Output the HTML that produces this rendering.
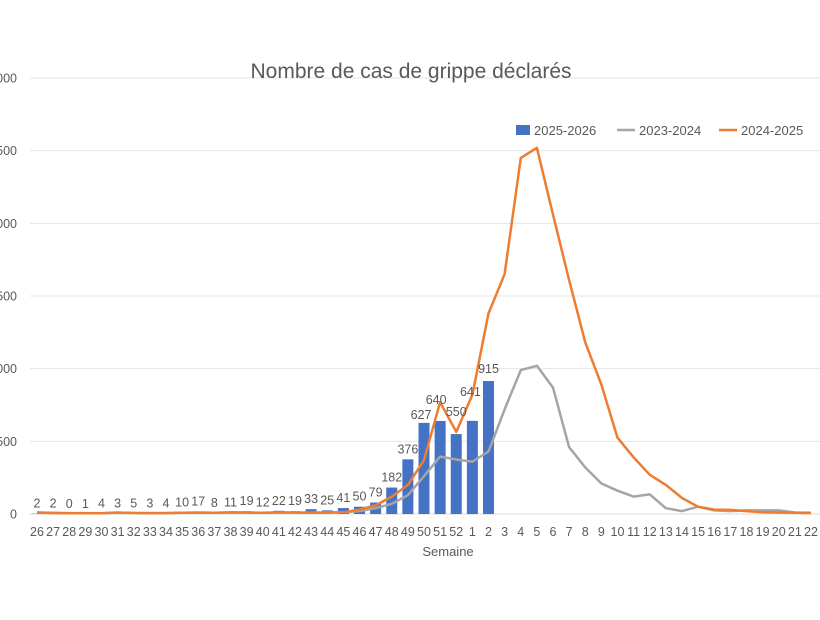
<!DOCTYPE html>
<html><head><meta charset="utf-8"><style>
html,body{margin:0;padding:0;background:#fff;}
svg text{font-family:"Liberation Sans",sans-serif;fill:#595959;}
</style></head><body>
<svg id="c" width="820" height="615" xmlns="http://www.w3.org/2000/svg"></svg>
<script>
const s=document.getElementById('c');
let h='';
const Y=v=>514-v*0.14533;
const X=i=>37+16.125*i;
[0,500,1000,1500,2000,2500,3000].forEach(v=>{
 h+=`<line x1="30" x2="820" y1="${Y(v)}" y2="${Y(v)}" stroke="${v==0?'#d9d9d9':'#e6e6e6'}" stroke-width="1"/>`;
 h+=`<text x="17" y="${Y(v)+4.5}" font-size="12.5" text-anchor="end">${v}</text>`;
});
const weeks=[];for(let w=26;w<=52;w++)weeks.push(w);for(let w=1;w<=22;w++)weeks.push(w);
weeks.forEach((w,i)=>{h+=`<text x="${X(i)}" y="536" font-size="12.5" text-anchor="middle">${w}</text>`;});
const bars=[2,2,0,1,4,3,5,3,4,10,17,8,11,19,12,22,19,33,25,41,50,79,182,376,627,640,550,641,915];
bars.forEach((v,i)=>{
 h+=`<rect x="${X(i)-5.5}" y="${Y(v)}" width="11" height="${v*0.14533}" fill="#4472c4"/>`;
});
const gray=[10,8,6,6,5,8,7,6,6,8,9,8,9,8,8,9,9,10,10,12,20,40,70,130,260,395,375,360,430,720,990,1020,870,460,320,210,160,120,135,40,20,50,25,20,25,25,25,10,8];
const orange=[10,6,5,5,5,10,7,6,6,8,10,9,12,10,9,11,10,8,9,12,30,60,120,200,370,770,565,820,1380,1650,2450,2520,2060,1610,1180,890,525,390,270,200,110,50,30,28,20,12,10,8,6];
const pl=(a,c)=>`<polyline fill="none" stroke="${c}" stroke-width="2.5" stroke-linejoin="round" points="${a.map((v,i)=>X(i).toFixed(1)+','+Y(v).toFixed(1)).join(' ')}"/>`;
h+=pl(gray,'#a5a5a5');
h+=pl(orange,'#ed7d31');
bars.forEach((v,i)=>{
 let y=Y(v)-6; let x=X(i);
 if(i==24){x-=3;y=419;} if(i==25){x-=4;y=404;} if(i==26){y=416;} if(i==27){x-=2;y=396;} if(i==28){y=373;}
 h+=`<text x="${x}" y="${y}" font-size="12.5" text-anchor="middle">${v}</text>`;
});
h+=`<text x="411" y="78" font-size="21" text-anchor="middle">Nombre de cas de grippe déclarés</text>`;
h+=`<text x="448" y="556" font-size="13" text-anchor="middle">Semaine</text>`;
h+=`<rect x="516" y="125" width="14" height="10" fill="#4472c4"/><text x="534" y="135" font-size="13">2025-2026</text>`;
h+=`<line x1="617" x2="635" y1="130" y2="130" stroke="#a5a5a5" stroke-width="2.5"/><text x="639" y="135" font-size="13">2023-2024</text>`;
h+=`<line x1="719" x2="737" y1="130" y2="130" stroke="#ed7d31" stroke-width="2.5"/><text x="741" y="135" font-size="13">2024-2025</text>`;
s.innerHTML=h;
</script>
</body></html>
